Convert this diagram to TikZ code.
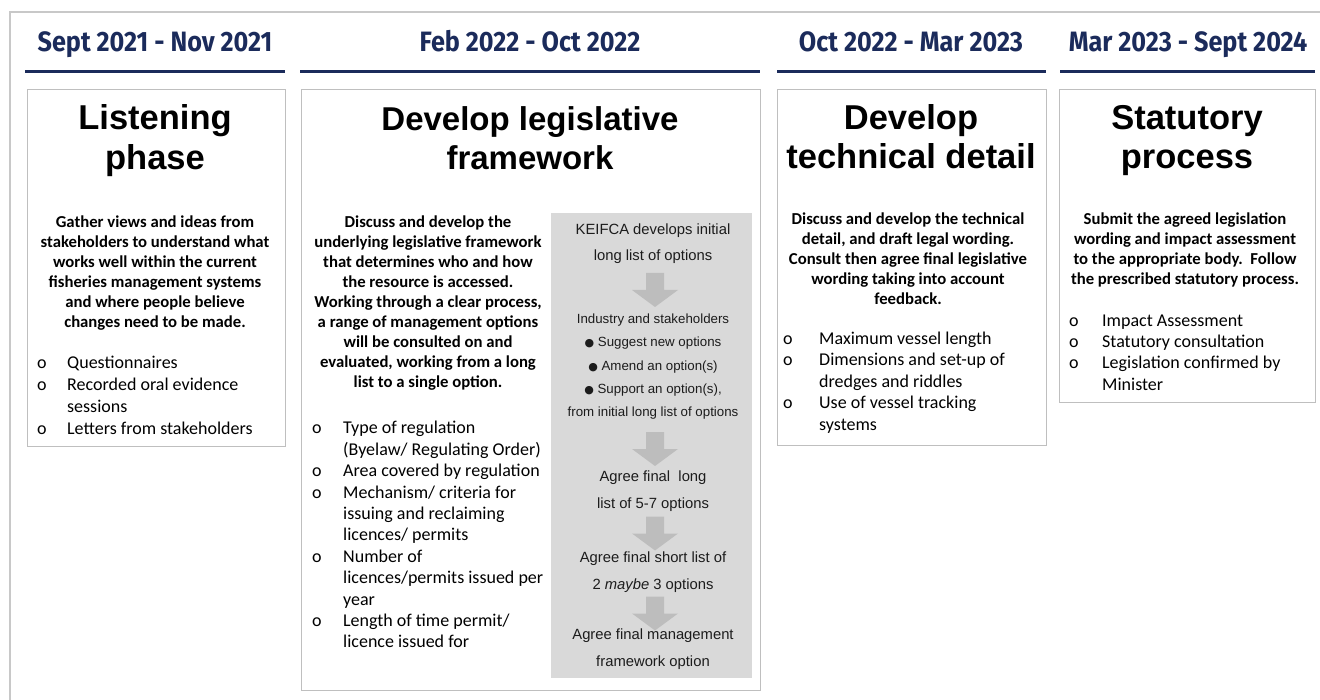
\documentclass[tikz,border=0pt]{standalone}
\usepackage{fontspec}
\newfontfamily\hdrfont[FakeStretch=0.9]{Fira Sans}
\newfontfamily\arialfont{Liberation Sans}
\newfontfamily\calfont{Carlito}
\newfontfamily\djv{DejaVu Sans}
\definecolor{navy}{HTML}{1B2B5B}
\definecolor{boxgray}{HTML}{BFBFBF}
\definecolor{framegray}{HTML}{C8C8C8}
\definecolor{panelgray}{HTML}{D9D9D9}
\definecolor{arrowgray}{HTML}{BDBDBD}
\definecolor{ptxt}{HTML}{1C1C1C}
\newcommand{\pbul}{{\djv\fontsize{11}{11}\selectfont ●}\ }
\newcommand{\bo}[2]{\makebox[#1][l]{\hspace*{#2}o}}
\begin{document}
\begin{tikzpicture}[x=1pt,y=-1pt,
  hdr/.style={font=\hdrfont\bfseries\fontsize{28}{30}\selectfont, text=navy, inner sep=0, anchor=base},
  titleA/.style={font=\arialfont\bfseries\fontsize{34.5}{39.5}\selectfont, align=center, inner sep=0},
  titleB/.style={font=\arialfont\bfseries\fontsize{33}{39.5}\selectfont, align=center, inner sep=0},
  para/.style={font=\calfont\bfseries\fontsize{16.7}{20}\selectfont, align=center, inner sep=0},
  blist/.style={font=\calfont\fontsize{18}{21.4}\selectfont, align=left, inner sep=0, anchor=west},
  pmain/.style={font=\arialfont\fontsize{14.8}{26.5}\selectfont, align=center, inner sep=0, text=ptxt},
  psub/.style={font=\arialfont\fontsize{13.3}{23.3}\selectfont, align=center, inner sep=0, text=ptxt},
  box/.style={draw=boxgray, line width=1pt},
  uline/.style={draw=navy, line width=3pt},
  frame/.style={draw=framegray, line width=2pt},
  downarrow/.pic={\fill[arrowgray] (-9,0) -- (9,0) -- (9,17) -- (23,17) -- (0,34) -- (-23,17) -- (-9,17) -- cycle;}
]
\useasboundingbox (0,0) rectangle (1320,700);
\fill[white] (0,0) rectangle (1320,700);
\draw[frame] (10,700) -- (10,12) -- (1320,12);

% headers
\node[hdr] (h1) at (155,52) {Sept 2021 - Nov 2021};
\node[hdr] (h2) at (530,52) {Feb 2022 - Oct 2022};
\node[hdr] (h3) at (911,52) {Oct 2022 - Mar 2023};
\node[hdr] (h4) at (1188,52) {Mar 2023 - Sept 2024};
\draw[uline] (25,72) -- (285,72);
\draw[uline] (300,72) -- (760,72);
\draw[uline] (777,72) -- (1046,72);
\draw[uline] (1060,72) -- (1315,72);

% boxes
\draw[box] (27,90) rectangle (285,446);
\draw[box] (301,90) rectangle (760,690);
\draw[box] (777,90) rectangle (1046,445);
\draw[box] (1059,90) rectangle (1315,403);
\fill[panelgray] (551,213) rectangle (752,678);

% box 1
\node[titleA] (t1) at (155,140.5) {Listening\\phase};
\node[para] (d1) at (155,273.5) {Gather views and ideas from\\stakeholders to understand what\\works well within the current\\fisheries management systems\\and where people believe\\changes need to be made.};
\node[blist, font=\calfont\fontsize{18}{22}\selectfont] (b1) at (31,395) {\bo{36pt}{6pt}Questionnaires\\\bo{36pt}{6pt}Recorded oral evidence\\\hspace*{36pt}sessions\\\bo{36pt}{6pt}Letters from stakeholders};

% box 2
\node[titleB] (t2) at (530,138) {Develop legislative\\framework};
\node[para] (d2) at (428,303) {Discuss and develop the\\underlying legislative framework\\that determines who and how\\the resource is accessed.\\Working through a clear process,\\a range of management options\\will be consulted on and\\evaluated, working from a long\\list to a single option.};
\node[blist] (b2) at (312,534.7) {\bo{31pt}{0pt}Type of regulation\\\hspace*{31pt}(Byelaw/ Regulating Order)\\\bo{31pt}{0pt}Area covered by regulation\\\bo{31pt}{0pt}Mechanism/ criteria for\\\hspace*{31pt}issuing and reclaiming\\\hspace*{31pt}licences/ permits\\\bo{31pt}{0pt}Number of\\\hspace*{31pt}licences/permits issued per\\\hspace*{31pt}year\\\bo{31pt}{0pt}Length of time permit/\\\hspace*{31pt}licence issued for};

% panel flow
\node[pmain] (p1) at (653,243.5) {KEIFCA develops initial\\long list of options};
\node[psub] (p2) at (653,366.7) {Industry and stakeholders\\\pbul Suggest new options\\\pbul Amend an option(s)\\\pbul Support an option(s),\\from initial long list of options};
\node[pmain] (p3) at (653,491) {Agree final\ \ long\\list of 5-7 options};
\node[pmain] (p4) at (653,572) {Agree final short list of\\2 \textit{maybe} 3 options};
\node[pmain] (p5) at (653,649.4) {Agree final management\\framework option};
\pic at (655,273) {downarrow};
\pic at (655,432) {downarrow};
\pic at (655,516.5) {downarrow};
\pic at (655,596.5) {downarrow};

% box 3
\node[titleA] (t3) at (911,136.5) {Develop\\technical detail};
\node[para] (d3) at (908,258.3) {Discuss and develop the technical\\detail, and draft legal wording.\\Consult then agree final legislative\\wording taking into account\\feedback.};
\node[blist] (b3) at (783,382.5) {\bo{36pt}{0pt}Maximum vessel length\\\bo{36pt}{0pt}Dimensions and set-up of\\\hspace*{36pt}dredges and riddles\\\bo{36pt}{0pt}Use of vessel tracking\\\hspace*{36pt}systems};

% box 4
\node[titleA] (t4) at (1187,140.5) {Statutory\\process};
\node[para] (d4) at (1185,250.3) {Submit the agreed legislation\\wording and impact assessment\\to the appropriate body.\ \ Follow\\the prescribed statutory process.};
\node[blist] (b4) at (1069,352.5) {\bo{33pt}{0pt}Impact Assessment\\\bo{33pt}{0pt}Statutory consultation\\\bo{33pt}{0pt}Legislation confirmed by\\\hspace*{33pt}Minister};
\end{tikzpicture}
\end{document}
